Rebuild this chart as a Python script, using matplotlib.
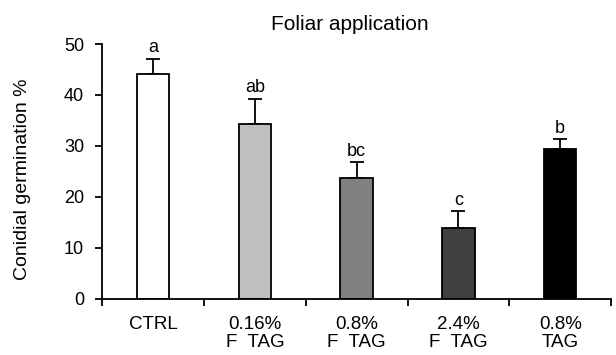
import matplotlib
matplotlib.use("Agg")
import matplotlib.pyplot as plt
import numpy as np

categories = ["CTRL", "0.16%\nF  TAG", "0.8%\nF  TAG", "2.4%\nF  TAG", "0.8%\nTAG"]
values = [44.2, 34.3, 23.7, 14.0, 29.5]
errors = [2.9, 5.0, 3.1, 3.2, 1.8]
letters = ["a", "ab", "bc", "c", "b"]
colors = ["#ffffff", "#bfbfbf", "#808080", "#404040", "#000000"]

plt.rcParams['font.family'] = ['Liberation Sans', 'DejaVu Sans']
FS = 13

fig = plt.figure(figsize=(6.16, 3.55), dpi=100)
ax = fig.add_axes([0.166, 0.158, 0.826, 0.718])

x = np.arange(len(categories))
ax.bar(x, values, width=0.32, color=colors, edgecolor="black", linewidth=1.3, zorder=2)
ax.errorbar(x, values, yerr=[np.zeros(len(values)), errors], fmt="none",
            ecolor="black", elinewidth=1.3, capsize=5, capthick=1.3, zorder=1)
for xi, v, e, l in zip(x, values, errors, letters):
    ax.text(xi, v + e + 1.3, l, ha="center", va="baseline", fontsize=FS)

ax.set_xlim(-0.5, len(categories) - 0.5)
ax.set_ylim(0, 50)
ax.set_yticks([0, 10, 20, 30, 40, 50])
ax.set_xticks(x)
ax.set_xticklabels(categories, fontsize=13.5, linespacing=1.12)
ax.tick_params(axis="x", length=0, pad=12)
ax.set_xticks(np.arange(-0.5, len(categories), 1.0), minor=True)
ax.tick_params(axis="x", which="minor", length=5, width=1.3, direction="out")
ax.tick_params(axis="y", length=5, width=1.3, direction="out", labelsize=FS, pad=8)
for s in ["top", "right"]:
    ax.spines[s].set_visible(False)
for s in ["left", "bottom"]:
    ax.spines[s].set_linewidth(1.3)

ax.set_ylabel("Conidial germination %", fontsize=14)
ax.yaxis.set_label_coords(-0.141, 0.47)
fig.text(0.568, 0.915, "Foliar application", ha="center", va="baseline", fontsize=15)

fig.savefig("out.png", dpi=100)
